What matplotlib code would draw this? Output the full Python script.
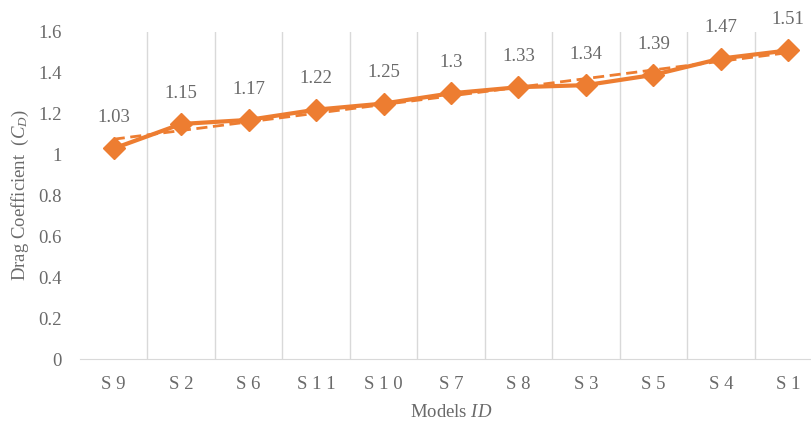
import numpy as np
import matplotlib
matplotlib.use("Agg")
import matplotlib.pyplot as plt

models = ["S 9", "S 2", "S 6", "S 1 1", "S 1 0", "S 7", "S 8", "S 3", "S 5", "S 4", "S 1"]
cd = [1.03, 1.15, 1.17, 1.22, 1.25, 1.30, 1.33, 1.34, 1.39, 1.47, 1.51]
labels = ["1.03", "1.15", "1.17", "1.22", "1.25", "1.3", "1.33", "1.34", "1.39", "1.47", "1.51"]

orange = "#ED7D31"
gray = "#6A6A6A"
plt.rcParams['font.family'] = ['Liberation Serif', 'DejaVu Serif']
plt.rcParams['mathtext.fontset'] = 'custom'
plt.rcParams['mathtext.rm'] = 'Liberation Serif'
plt.rcParams['mathtext.it'] = 'Liberation Serif:italic'

fig = plt.figure(figsize=(8.11, 4.23), dpi=100)
# plot area runs a bit past the right edge of the picture, as in the source
ax = fig.add_axes([80 / 811, 64 / 423, 742 / 811, 327 / 423])

x = np.arange(len(models))
ax.plot(x, cd, color=orange, lw=3, marker="D", ms=11, zorder=3)

# linear trend line
k, b = np.polyfit(x, cd, 1)
ax.plot(x, k * x + b, color=orange, lw=2, ls=(0, (4, 2)), zorder=2)

for xi, yi, t in zip(x, cd, labels):
    ax.annotate(t, (xi, yi), xytext=(0, 16), textcoords="offset points",
                ha="center", va="bottom", fontsize=13.5, color=gray)

ax.set_xlim(-0.5, len(models) - 0.5)
ax.set_ylim(0, 1.6)
ax.set_yticks(np.arange(0, 1.61, 0.2))
ax.set_yticklabels(["0", "0.2", "0.4", "0.6", "0.8", "1", "1.2", "1.4", "1.6"])
ax.set_xticks(x)
ax.set_xticklabels(models)
ax.tick_params(axis="both", length=0, labelsize=13.5, labelcolor=gray)
ax.tick_params(axis="x", pad=12)
ax.tick_params(axis="y", pad=13)

for xb in np.arange(0.5, len(models) - 0.5, 1.0):
    ax.axvline(xb, color="#D9D9D9", lw=1, zorder=0)

for s in ["top", "right", "left"]:
    ax.spines[s].set_visible(False)
ax.spines["bottom"].set_color("#D9D9D9")

ax.set_ylabel(r"Drag Coefficient  ($C_D$)", fontsize=13.5, color=gray, labelpad=5)
ax.set_xlabel(r"Models $ID$", fontsize=13.5, color=gray, labelpad=8)

fig.savefig("out.png", dpi=100)
